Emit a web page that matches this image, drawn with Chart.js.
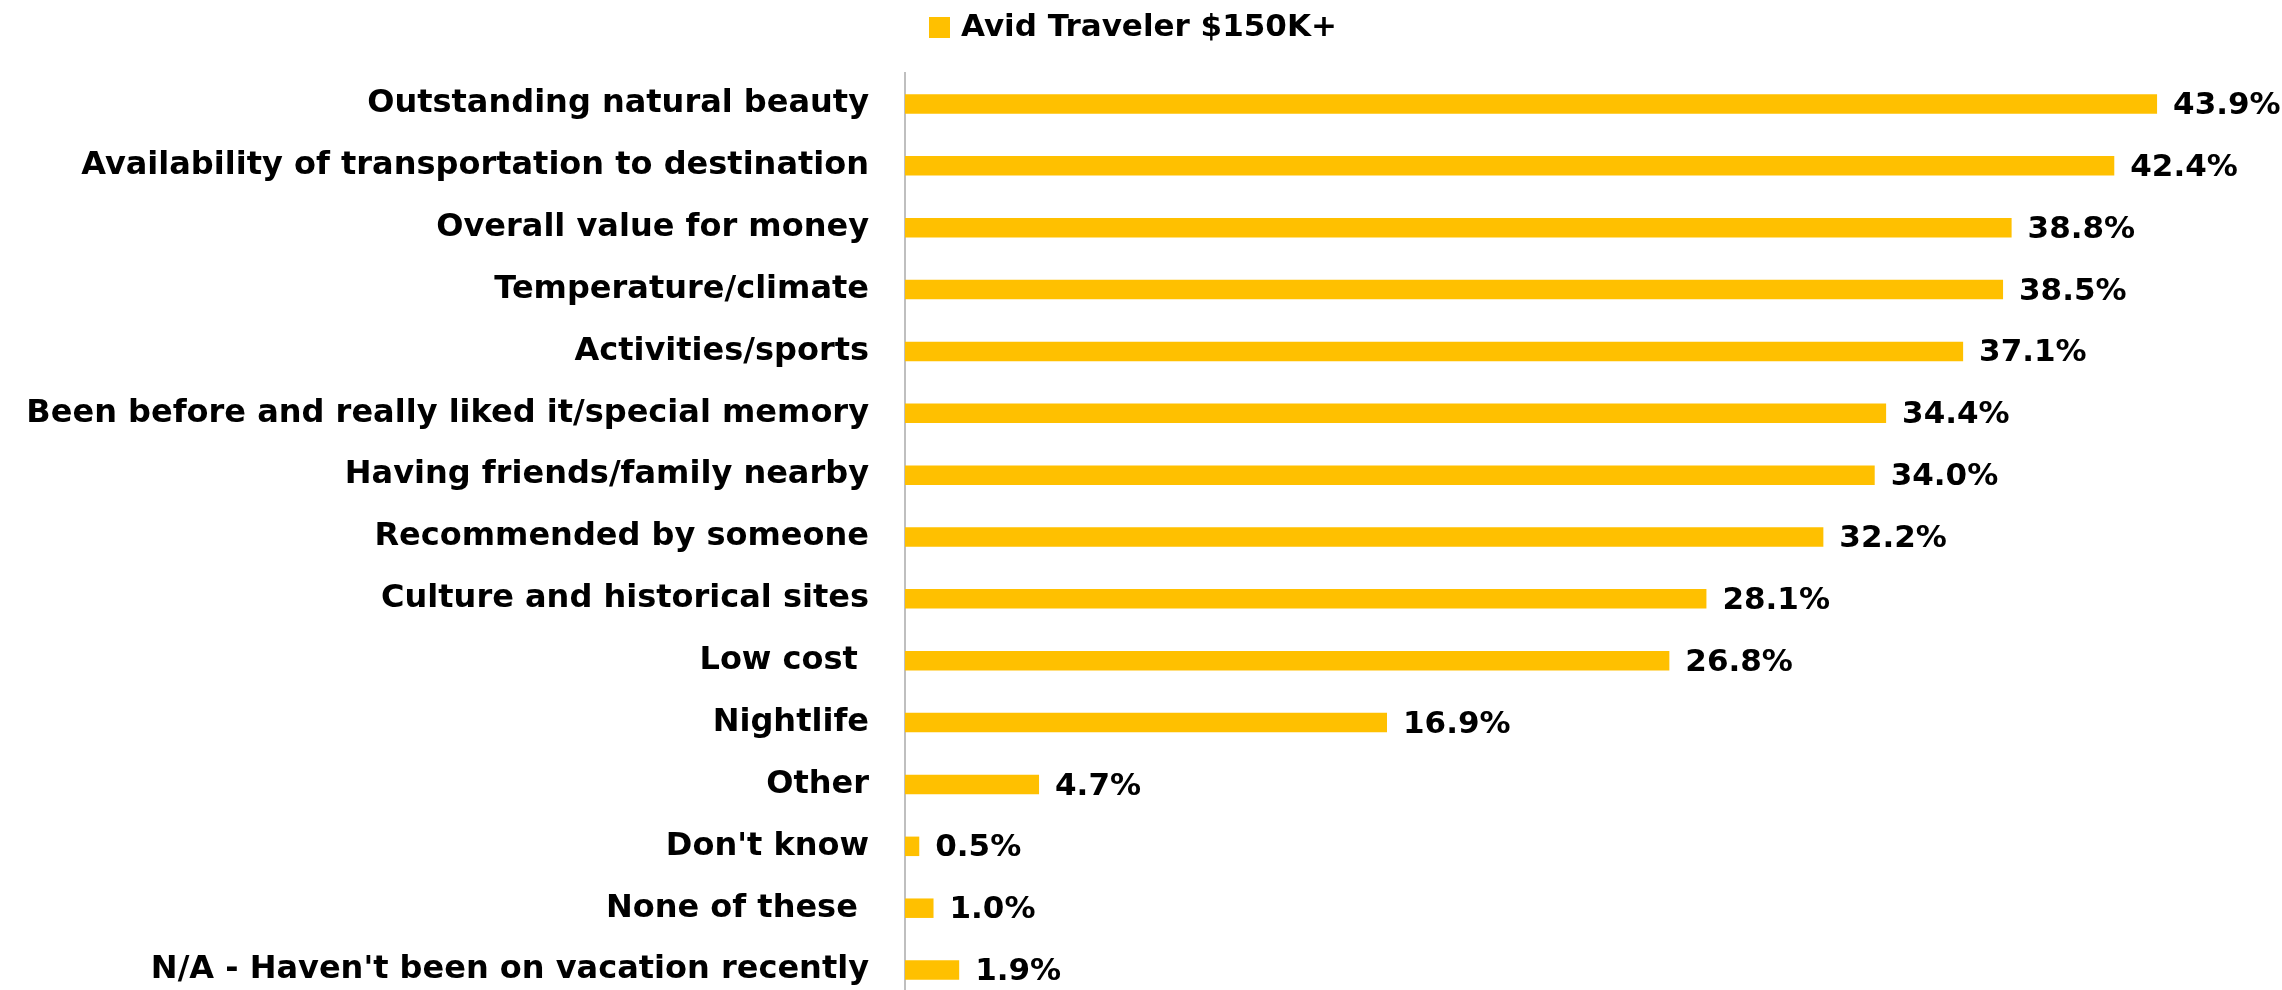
<!DOCTYPE html>
<html>
<head>
<meta charset="utf-8">
<script src="https://cdn.jsdelivr.net/npm/chart.js@4.4.1/dist/chart.umd.min.js"></script>
<style>
  html, body { margin: 0; padding: 0; background: #ffffff; overflow: hidden; }
  #wrap { position: relative; width: 2282px; height: 1010px; }
</style>
</head>
<body>
<div id="wrap"><canvas id="chart"></canvas></div>
<script>
// Reasons for choosing a vacation destination
const categories = [
  'Outstanding natural beauty',
  'Availability of transportation to destination',
  'Overall value for money',
  'Temperature/climate',
  'Activities/sports',
  'Been before and really liked it/special memory',
  'Having friends/family nearby',
  'Recommended by someone',
  'Culture and historical sites',
  'Low cost ',
  'Nightlife',
  'Other',
  "Don't know",
  'None of these ',
  "N/A - Haven't been on vacation recently"
];
const seriesName = 'Avid Traveler $150K+';
const seriesValues = [43.9, 42.4, 38.8, 38.5, 37.1, 34.4, 34.0, 32.2, 28.1, 26.8, 16.9, 4.7, 0.5, 1.0, 1.9];
const valueLabels = ['43.9%', '42.4%', '38.8%', '38.5%', '37.1%', '34.4%', '34.0%', '32.2%', '28.1%', '26.8%', '16.9%', '4.7%', '0.5%', '1.0%', '1.9%'];

const FONT = "'DejaVu Sans', sans-serif";

// Writes the percentage next to the end of each bar
const barValueLabels = {
  id: 'barValueLabels',
  afterDatasetsDraw(chart) {
    const ctx = chart.ctx;
    const meta = chart.getDatasetMeta(0);
    ctx.save();
    ctx.font = 'bold 31px ' + FONT;
    ctx.fillStyle = '#000000';
    ctx.textAlign = 'left';
    ctx.textBaseline = 'middle';
    meta.data.forEach((bar, i) => {
      ctx.fillText(valueLabels[i], bar.x + 16, bar.y + 2);
    });
    ctx.restore();
  }
};

// Single-entry legend above the plot: coloured square followed by the series name
const seriesKey = {
  id: 'seriesKey',
  afterDraw(chart) {
    const ds = chart.data.datasets[0];
    const ctx = chart.ctx;
    ctx.save();
    ctx.fillStyle = ds.backgroundColor;
    ctx.fillRect(929, 17, 21, 21);
    ctx.font = 'bold 31px ' + FONT;
    ctx.fillStyle = '#000000';
    ctx.textAlign = 'left';
    ctx.textBaseline = 'middle';
    ctx.fillText(ds.label, 961, 28);
    ctx.restore();
  }
};

new Chart(document.getElementById('chart'), {
  type: 'bar',
  data: {
    labels: categories,
    datasets: [{
      label: seriesName,
      data: seriesValues,
      backgroundColor: '#FFC000',
      borderWidth: 0,
      barPercentage: 1.0,
      categoryPercentage: 0.315
    }]
  },
  options: {
    indexAxis: 'y',
    responsive: true,
    maintainAspectRatio: false,
    animation: false,
    layout: { padding: { left: 0, right: 8, top: 73, bottom: 9 } },
    plugins: {
      tooltip: { enabled: false },
      legend: { display: false }
    },
    scales: {
      x: {
        display: false,
        min: 0,
        max: 48
      },
      y: {
        grid: { display: false, drawTicks: false },
        border: { display: true, color: '#bfbfbf', width: 2 },
        ticks: {
          color: '#000000',
          padding: 36,
          font: { family: FONT, size: 32, weight: 'bold' }
        },
        afterFit(scale) {
          // fixed gutter for the category names; no extra room above/below the plot
          scale.width = 905;
          scale.paddingTop = 0;
          scale.paddingBottom = 0;
        }
      }
    }
  },
  plugins: [barValueLabels, seriesKey]
});
</script>
</body>
</html>
